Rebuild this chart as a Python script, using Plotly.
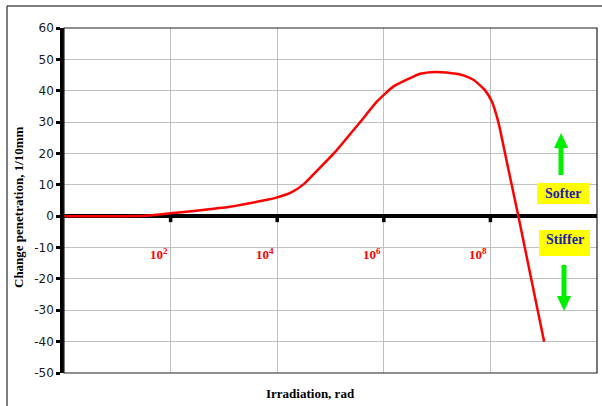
import math
import plotly.graph_objects as go

# ---- data ----
dose_rad = [1, 10, 32, 100, 400, 1300, 5200, 1.0e4, 1.8e4, 3.2e4, 5.6e4, 1.3e5,
            3.6e5, 7.4e5, 1.5e6, 3.1e6, 4.8e6, 9.1e6, 1.5e7, 3.1e7, 4.8e7, 6.3e7,
            7.9e7, 1.07e8, 1.41e8, 2.14e8, 3.35e8, 5.75e8, 1.02e9]
change_pen = [0, 0, 0.1, 0.9, 2.0, 3.0, 4.9, 6.0, 7.5, 10.3, 14.5, 21,
              30, 36.5, 41.3, 44, 45.4, 46.0, 45.8, 44.9, 43.5, 41.8,
              40.2, 36.5, 30.0, 15.5, 0, -19.5, -40]
grid_vals = [1e2, 1e4, 1e6, 1e8]
grid_labels = ["10<sup>2</sup>", "10<sup>4</sup>", "10<sup>6</sup>", "10<sup>8</sup>"]
y_ticks = list(range(-50, 61, 10))
y_ticktext = [str(v) for v in y_ticks]

# ---- layout helpers (pixel -> paper) ----
L, R, T, B = 64, 597, 28, 373
W, H = R - L, B - T
def px(x):
    return (x - L) / W
def py(y):
    return (B - y) / H

fig = go.Figure()
fig.add_trace(go.Scatter(x=dose_rad, y=change_pen, mode="lines",
                         line=dict(color="#FF0000", width=2.5, shape="spline", smoothing=0.5),
                         showlegend=False, hoverinfo="skip"))

shapes = []
# outer chart frame
shapes.append(dict(type="rect", xref="paper", yref="paper", x0=px(7), x1=px(640), y0=py(440), y1=py(6),
                   line=dict(color="#000000", width=1), layer="below"))
# plot area border
shapes.append(dict(type="rect", xref="paper", yref="paper", x0=0, x1=1, y0=0, y1=1,
                   line=dict(color="#202020", width=1.2)))
# tick marks on zero line at gridlines
for v in grid_vals:
    shapes.append(dict(type="line", xref="x", yref="y", x0=v, x1=v, ysizemode="pixel", yanchor=0,
                       y0=0, y1=-6, line=dict(color="#000000", width=3.5)))
# yellow boxes
shapes.append(dict(type="rect", xref="paper", yref="paper", x0=px(537), x1=px(589), y0=py(204), y1=py(183),
                   fillcolor="#FFFF00", line=dict(width=0)))
shapes.append(dict(type="rect", xref="paper", yref="paper", x0=px(539), x1=px(590), y0=py(256), y1=py(230),
                   fillcolor="#FFFF00", line=dict(width=0)))

# green arrows as polygons
def up_arrow(cx, tip, base, shaft_w=5, head_w=14, head_h=15):
    pts = [(cx - shaft_w/2, base), (cx - shaft_w/2, tip + head_h), (cx - head_w/2, tip + head_h),
           (cx, tip), (cx + head_w/2, tip + head_h), (cx + shaft_w/2, tip + head_h), (cx + shaft_w/2, base)]
    return "M " + " L ".join(f"{px(a):.5f},{py(b):.5f}" for a, b in pts) + " Z"
def down_arrow(cx, base, tip, shaft_w=5, head_w=14, head_h=15):
    pts = [(cx - shaft_w/2, base), (cx - shaft_w/2, tip - head_h), (cx - head_w/2, tip - head_h),
           (cx, tip), (cx + head_w/2, tip - head_h), (cx + shaft_w/2, tip - head_h), (cx + shaft_w/2, base)]
    return "M " + " L ".join(f"{px(a):.5f},{py(b):.5f}" for a, b in pts) + " Z"

shapes.append(dict(type="path", xref="paper", yref="paper", path=up_arrow(561, 133, 175),
                   fillcolor="#00F000", line=dict(width=0)))
shapes.append(dict(type="path", xref="paper", yref="paper", path=down_arrow(564, 265, 311),
                   fillcolor="#00F000", line=dict(width=0)))

annotations = []
for v, lab in zip(grid_vals, grid_labels):
    annotations.append(dict(x=math.log10(v), y=-12, xref="x", yref="y", text=lab, showarrow=False,
                            xanchor="right", yanchor="middle", xshift=-1,
                            font=dict(family="Liberation Serif", size=13, color="#FF0000", weight="bold")))
annotations.append(dict(x=px(563), y=py(193.5), xref="paper", yref="paper", text="Softer", showarrow=False,
                        xanchor="center", yanchor="middle",
                        font=dict(family="Liberation Serif", size=14, color="#2020B0", weight="bold")))
annotations.append(dict(x=px(564.5), y=py(240), xref="paper", yref="paper", text="Stiffer", showarrow=False,
                        xanchor="center", yanchor="middle",
                        font=dict(family="Liberation Serif", size=14, color="#2020B0", weight="bold")))
annotations.append(dict(x=px(310), y=py(393), xref="paper", yref="paper", text="Irradiation, rad",
                        showarrow=False, xanchor="center", yanchor="middle",
                        font=dict(family="Liberation Serif", size=13, color="#000000", weight="bold")))
annotations.append(dict(x=px(18), y=py(207), xref="paper", yref="paper", text="Change penetration, 1/10mm",
                        showarrow=False, textangle=-90, xanchor="center", yanchor="middle",
                        font=dict(family="Liberation Serif", size=13, color="#000000", weight="bold")))

fig.update_layout(
    width=602, height=406,
    margin=dict(l=L, r=602 - R, t=T, b=406 - B),
    paper_bgcolor="#FFFFFF", plot_bgcolor="#FFFFFF",
    shapes=shapes, annotations=annotations,
    xaxis=dict(type="log", range=[0, 10], tickvals=grid_vals, showticklabels=False, ticks="",
               showgrid=True, gridcolor="#C0C0C0", gridwidth=1, showline=False, zeroline=False),
    yaxis=dict(range=[-50, 60], tickvals=y_ticks, ticktext=y_ticktext, showgrid=True,
               gridcolor="#C0C0C0", gridwidth=1,
               showline=True, linecolor="#000000", linewidth=3.5,
               ticks="outside", ticklen=4, tickwidth=3, tickcolor="#000000",
               zeroline=True, zerolinecolor="#000000", zerolinewidth=3.5,
               tickfont=dict(family="DejaVu Sans", size=12, color="#1A1A1A")),
)

fig.write_html("out.html")
